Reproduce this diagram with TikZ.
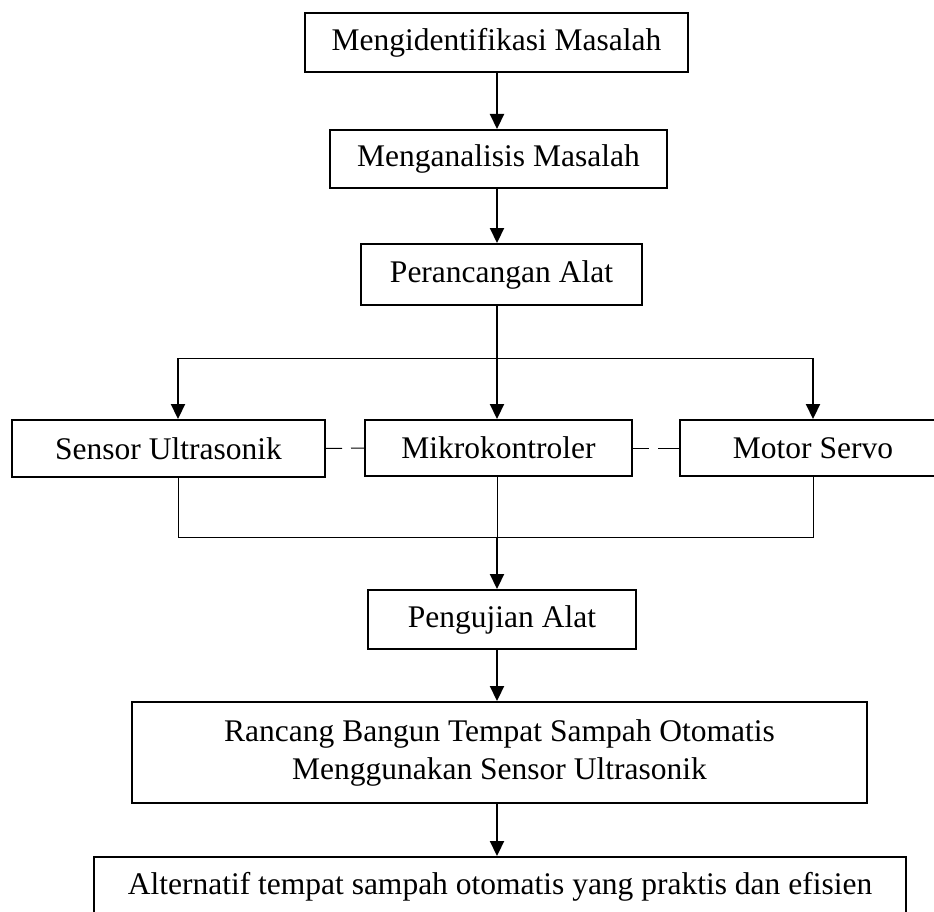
\documentclass[tikz,border=0pt]{standalone}
\usepackage{fontspec}
\setmainfont{Liberation Serif}
\usetikzlibrary{
  arrows.meta
}

\begin{document}
\begin{tikzpicture}[x=1pt, y=-1pt,
    every node/.style={rectangle, text centered, inner sep=0pt, font=\fontsize{31.5}{38}\selectfont},
    box/.style={draw, line width=2pt, minimum height=59pt},
    arr/.style={line width=2.2pt, -{Triangle[length=15pt, width=14pt]}},
    wire/.style={line width=1pt},
    link/.style={line width=1pt, dash pattern=on 16pt off 9pt on 40pt}]
\useasboundingbox (0,0) rectangle (934,912);
\clip (0,0) rectangle (934,912);

% main column
\node [box, minimum width=383pt] (ident) at (496.5,42.5) {Mengidentifikasi Masalah};
\node [box, minimum width=337pt, minimum height=58pt] (anal) at (498.5,159) {Menganalisis Masalah};
\node [box, minimum width=281pt, minimum height=61pt] (rancang) at (501.5,274.5) {Perancangan Alat};

% middle row
\node [box, minimum width=313pt, minimum height=57pt] (sensor) at (168.5,448.5) {Sensor Ultrasonik};
\node [box, minimum width=267pt, minimum height=56pt] (mikro) at (498.5,448) {Mikrokontroler};
\node [box, minimum width=266pt, minimum height=56pt] (motor) at (813,448) {Motor Servo};

\node [box, minimum width=268pt] (uji) at (502,619.5) {Pengujian Alat};
\node [box, minimum width=735pt, minimum height=101pt, align=center] (bangun) at (499.5,752.5)
  {Rancang Bangun Tempat Sampah Otomatis\\Menggunakan Sensor Ultrasonik};
\node [box, minimum width=812pt, minimum height=60pt] (alt) at (500,887)
  {Alternatif tempat sampah otomatis yang praktis dan efisien};

\coordinate (mid) at (497,0);
\coordinate (tl) at (178,358);
\coordinate (tr) at (813,358);
\coordinate (bl) at (178,537);
\coordinate (br) at (813,537);

\draw [arr] (ident.south -| mid) -- (anal.north -| mid);
\draw [arr] (anal.south -| mid) -- (rancang.north -| mid);
\draw [arr] (rancang.south -| mid) -- (mikro.north -| mid);
\draw [wire] (tl) -- (tr);
\draw [arr] (tl) -- (sensor.north -| tl);
\draw [arr] (tr) -- (motor.north -| tr);

\draw [link] (sensor.east) -- (mikro.west);
\draw [link] (mikro.east) -- (motor.west);

\draw [wire] (sensor.south -| tl) -- (bl) -- (br) -- (motor.south -| tr);
\draw [wire] (mikro.south -| mid) -- (mid |- bl);
\draw [arr] (mid |- bl) -- (uji.north -| mid);
\draw [arr] (uji.south -| mid) -- (bangun.north -| mid);
\draw [arr] (bangun.south -| mid) -- (alt.north -| mid);
\end{tikzpicture}
\end{document}
